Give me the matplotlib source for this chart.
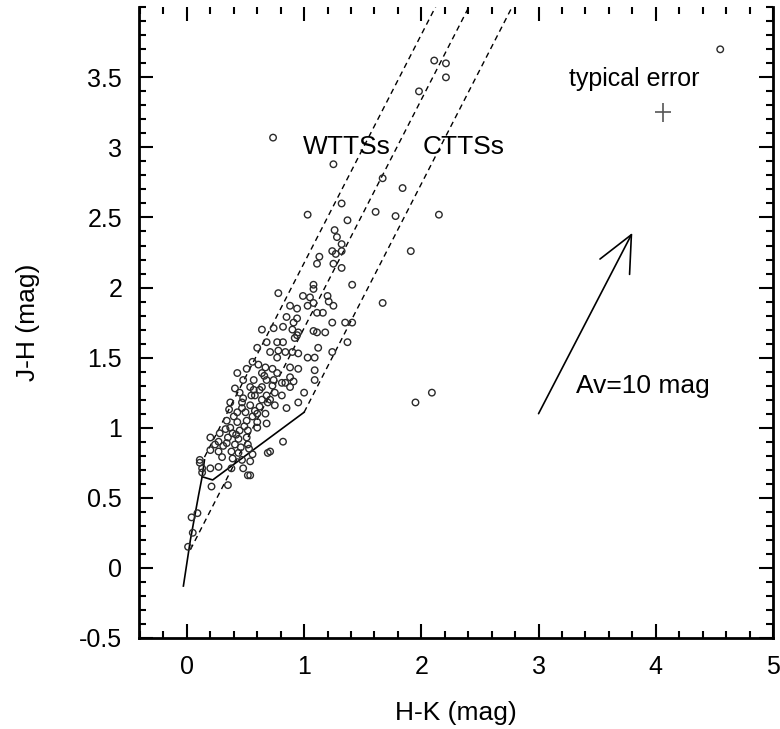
import numpy as np
import matplotlib
matplotlib.use("Agg")
import matplotlib.pyplot as plt
from matplotlib.ticker import MultipleLocator

plt.rcParams['font.family'] = ['Liberation Sans', 'DejaVu Sans']

# observed colours (H-K, J-H)
hk = [0.735, 1.25, 2.11, 2.21, 2.21, 1.98, 1.67, 1.84, 4.55, 1.78, 2.15, 1.91, 1.67, 2.09, 1.95,
      1.32, 1.03, 1.61, 1.37, 1.26, 1.28, 1.32, 1.24, 1.27, 1.32, 1.13, 1.11, 1.25, 1.32, 1.41,
      1.08, 1.08, 0.99, 1.05, 0.78, 1.20,
      1.21, 0.88, 0.94, 1.03, 1.08, 1.25, 1.11, 1.16, 0.85, 0.94, 0.91, 1.24, 1.35, 1.41, 0.74,
      0.82, 0.90, 0.95, 1.08, 1.11, 1.18, 0.64, 0.68, 0.77, 0.82, 0.92, 0.94, 1.37, 1.12, 0.60,
      0.71, 0.78, 0.84, 0.90, 0.95, 1.03, 1.09, 1.24, 0.77, 0.56, 0.51, 0.61, 0.67, 0.73, 0.88,
      0.95, 1.09, 0.43, 0.64, 0.77, 0.88, 1.09, 0.48, 0.57, 0.68, 0.74, 0.81, 0.54, 0.64, 0.73,
      0.88, 0.45, 0.58, 0.68, 0.75, 0.84, 0.91, 0.55, 0.81,
      0.37, 0.47, 0.54, 0.62, 0.69, 0.75, 0.85, 0.43, 0.50, 0.60, 0.67,
      0.34, 0.43, 0.51, 0.60, 0.68, 0.37, 0.45, 0.52, 0.60,
      0.28, 0.20, 0.35, 0.44, 0.51, 0.27, 0.34, 0.41, 0.52,
      0.20, 0.27, 0.38, 0.44, 0.30, 0.39, 0.47, 0.54, 0.56, 0.71, 0.82,
      0.13, 0.20, 0.27, 0.38, 0.48, 0.54, 0.21, 0.35, 0.11, 0.11, 0.13, 0.52, 0.69,
      0.04, 0.09, 0.05, 0.01, 1.00, 0.95,
      0.40, 0.47, 0.33, 0.56, 0.31, 0.49, 0.42, 0.58, 0.36, 0.64, 0.24, 0.46, 0.53, 0.39,
      0.62, 0.71, 0.57, 0.48, 0.41, 0.66]
jh = [3.07, 2.88, 3.62, 3.60, 3.50, 3.40, 2.78, 2.71, 3.70, 2.51, 2.52, 2.26, 1.89, 1.25, 1.18,
      2.60, 2.52, 2.54, 2.48, 2.41, 2.36, 2.31, 2.26, 2.24, 2.26, 2.22, 2.17, 2.17, 2.14, 2.02,
      2.02, 1.99, 1.94, 1.93, 1.96, 1.94,
      1.90, 1.87, 1.85, 1.87, 1.89, 1.87, 1.82, 1.82, 1.79, 1.78, 1.75, 1.75, 1.75, 1.75, 1.71,
      1.72, 1.70, 1.68, 1.69, 1.68, 1.68, 1.70, 1.61, 1.61, 1.61, 1.64, 1.66, 1.61, 1.57, 1.57,
      1.54, 1.55, 1.54, 1.54, 1.53, 1.50, 1.50, 1.54, 1.50, 1.47, 1.42, 1.45, 1.43, 1.42, 1.43,
      1.42, 1.41, 1.39, 1.39, 1.39, 1.36, 1.34, 1.34, 1.34, 1.34, 1.34, 1.32, 1.29, 1.29, 1.30,
      1.29, 1.25, 1.23, 1.23, 1.25, 1.32, 1.33, 1.23, 1.23,
      1.18, 1.18, 1.16, 1.15, 1.18, 1.16, 1.14, 1.11, 1.11, 1.10, 1.10,
      1.05, 1.04, 1.05, 1.04, 1.03, 1.00, 0.98, 0.98, 1.00,
      0.96, 0.93, 0.93, 0.92, 0.93, 0.90, 0.89, 0.88, 0.88,
      0.84, 0.83, 0.83, 0.82, 0.79, 0.78, 0.77, 0.76, 0.81, 0.83, 0.90,
      0.71, 0.71, 0.72, 0.71, 0.71, 0.66, 0.58, 0.59, 0.77, 0.75, 0.68, 0.66, 0.82,
      0.36, 0.39, 0.25, 0.15, 1.25, 1.18,
      1.08, 1.14, 0.99, 1.08, 0.87, 1.01, 0.95, 1.12, 1.13, 1.20, 0.88, 0.86, 0.85, 0.96,
      1.27, 1.20, 1.27, 1.21, 1.28, 1.37]

# intrinsic loci
dwarf_hk = [-0.03, 0.03, 0.10, 0.13, 0.15]
dwarf_jh = [-0.13, 0.20, 0.52, 0.65, 0.77]
ctts_hk = [0.13, 0.22, 1.00]
ctts_jh = [0.65, 0.627, 1.11]

# reddening band (start point, slope)
band_start = [(0.15, 0.79), (0.03, 0.13), (1.00, 1.11)]
band_slope = 1.63

fig = plt.figure(figsize=(7.8, 7.29), dpi=100)
ax = fig.add_axes([0.178, 0.125, 0.813, 0.865])

ax.scatter(hk, jh, s=22, facecolors='none', edgecolors='#2a2a2a', linewidths=1.0, zorder=3)

ax.plot(dwarf_hk, dwarf_jh, color='black', lw=1.2)
ax.plot(ctts_hk, ctts_jh, color='black', lw=1.2)
for x0, y0 in band_start:
    x1 = x0 + (4.3 - y0) / band_slope
    ax.plot([x0, x1], [y0, 4.3], color='black', lw=1.0, ls=(0, (4, 3)))

# reddening vector Av = 10 mag
ax.annotate('', xy=(3.80, 2.39), xytext=(3.00, 1.10),
            arrowprops=dict(arrowstyle='->,head_length=1.3,head_width=0.6',
                            color='black', lw=1.2, mutation_scale=20, shrinkA=0, shrinkB=0))
ax.text(3.32, 1.30, 'Av=10 mag', fontsize=19, va='center', ha='left')

# typical error
ax.errorbar([4.06], [3.25], xerr=[0.07], yerr=[0.07], fmt='none', ecolor='#555555',
            elinewidth=1.2, capsize=0)
ax.text(3.82, 3.49, 'typical error', fontsize=18, va='center', ha='center')

ax.text(0.99, 3.0, 'WTTSs', fontsize=19, va='center', ha='left')
ax.text(2.01, 3.0, 'CTTSs', fontsize=19, va='center', ha='left')

ax.set_xlim(-0.41, 5.0)
ax.set_ylim(-0.5, 4.0)
ax.xaxis.set_major_locator(MultipleLocator(1))
ax.xaxis.set_minor_locator(MultipleLocator(0.2))
ax.yaxis.set_major_locator(MultipleLocator(0.5))
ax.yaxis.set_minor_locator(MultipleLocator(0.1))
ax.set_yticks([-0.5, 0, 0.5, 1, 1.5, 2, 2.5, 3, 3.5])
ax.set_yticklabels(['-0.5', '0', '0.5', '1', '1.5', '2', '2.5', '3', '3.5'])
ax.set_xticks([0, 1, 2, 3, 4, 5])
ax.set_xticklabels(['0', '1', '2', '3', '4', '5'])
ax.tick_params(which='both', direction='in', top=True, right=True, labelsize=18, width=1.5)
ax.tick_params(which='major', length=10, pad=12)
ax.tick_params(which='minor', length=5)
for side in ['left', 'right', 'bottom']:
    ax.spines[side].set_linewidth(2)
ax.spines['top'].set_visible(False)

ax.set_xlabel('H-K (mag)', fontsize=19, labelpad=16)
ax.set_ylabel('J-H (mag)', fontsize=19, labelpad=28)

fig.savefig('out.png', dpi=100)
